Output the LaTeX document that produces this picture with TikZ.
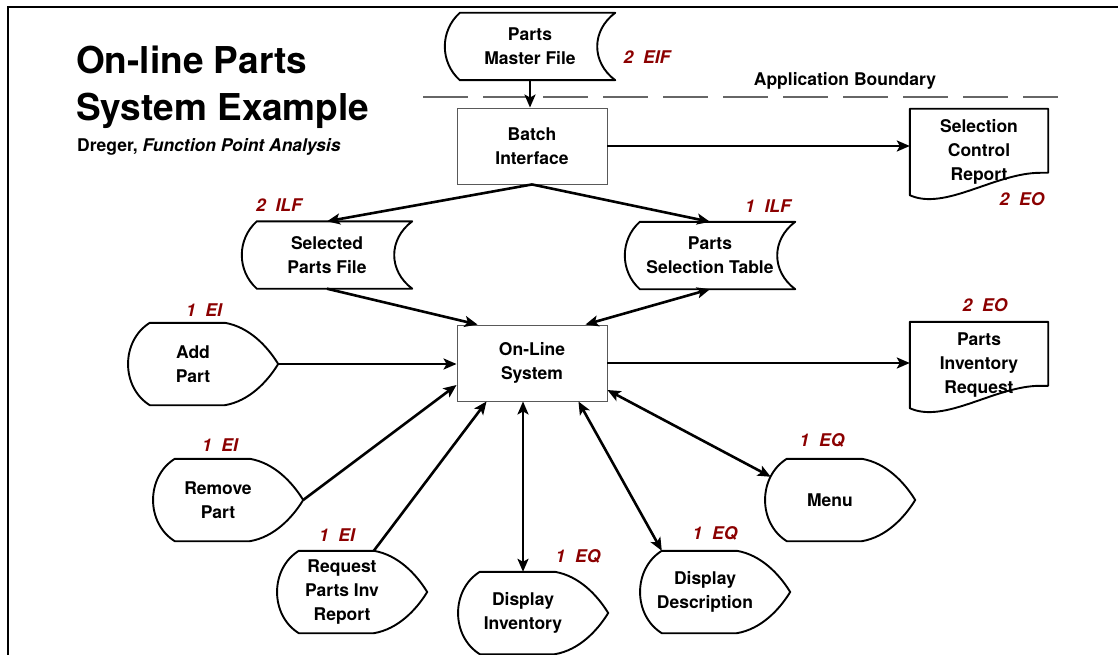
\documentclass[tikz,border=0pt]{standalone}
\usepackage{fontspec}
\setmainfont{TeX Gyre Heros}
\usepackage{tikz}
\usetikzlibrary{arrows.meta}
\definecolor{fpred}{RGB}{139,0,0}
\tikzstyle{shapeline} = [line width=1.9pt, line join=round]
\tikzstyle{store} = [minimum width=170pt, minimum height=67pt, inner sep=0pt, align=center, font=\fontsize{17.5}{24}\selectfont\bfseries]
\tikzstyle{display} = [minimum width=130pt, minimum height=82pt, inner sep=0pt, align=center, font=\fontsize{17.5}{24}\selectfont\bfseries]
\tikzstyle{report} = [minimum width=138pt, minimum height=86pt, inner sep=0pt, align=center, font=\fontsize{17.5}{24}\selectfont\bfseries]
\tikzstyle{process} = [rectangle, draw=black!65, line width=0.9pt, minimum width=150pt, minimum height=76pt, align=center, font=\fontsize{17.5}{24}\selectfont\bfseries]
\tikzstyle{fpcount} = [text=fpred, font=\fontsize{17.5}{21}\selectfont\bfseries\itshape]
\tikzstyle{arrow} = [line width=2.6pt, ->, >={Stealth[length=13pt,width=11pt,inset=3pt]}]
\tikzstyle{biarrow} = [line width=2.6pt, <->, >={Stealth[length=13pt,width=11pt,inset=3pt]}]

% stored data outline
\newcommand{\storeshape}[1]{%
  \draw[shapeline] ([xshift=15pt]#1.north west) -- (#1.north east)
    .. controls +(-24,18) and +(-24,-18) .. (#1.south east)
    -- ([xshift=15pt]#1.south west)
    .. controls +(-20,-18) and +(-20,18) .. cycle;}
% display outline, with a named tip
\newcommand{\dispshape}[1]{%
  \draw[shapeline] ([xshift=22pt]#1.north west) -- ([xshift=97pt]#1.north west)
    .. controls +(24,4) and +(-11,-18) .. ([xshift=20pt]#1.east)
    .. controls +(-11,18) and +(24,-4) .. ([xshift=97pt]#1.south west)
    -- ([xshift=22pt]#1.south west)
    .. controls +(-29,-18) and +(-29,18) .. cycle;
  \coordinate (#1-tip) at ([xshift=20pt]#1.east);}
% document outline
\newcommand{\docshape}[1]{%
  \draw[shapeline] ([xshift=-8pt,yshift=-64pt]#1.north east)
    .. controls +(-45,0) and +(35,16) .. (#1.south west)
    -- (#1.north west) -- (#1.north east) -- ([yshift=-64pt]#1.north east) -- cycle;}

\begin{document}
\begin{tikzpicture}[x=1pt, y=-1pt]
  \useasboundingbox (0,0) rectangle (1118,655);
  \draw[line width=2pt] (8,655) -- (8,7) -- (1118,7);

  % title
  \node [anchor=base west, inner sep=0pt, font=\fontsize{37}{46}\selectfont\bfseries] at (76,74) (title1) {On-line Parts};
  \node [anchor=base west, inner sep=0pt, font=\fontsize{37}{46}\selectfont\bfseries] at (76,121) (title2) {System Example};
  \node [anchor=base west, inner sep=0pt, font=\fontsize{17.5}{21}\selectfont\bfseries] at (77,152) (source) {Dreger, \textit{Function Point Analysis}};

  % boundary
  \draw [black!60, line width=1.1pt, dash pattern=on 45pt off 15pt] (423,97) -- (1058,97);
  \node [font=\fontsize{17.5}{21}\selectfont\bfseries] at (845,81) (boundary) {Application Boundary};

  \node [store] at (530,46.5) (master) {Parts\\Master File};
  \node [process] at (532,146) (batch) {Batch\\Interface};
  \node [report] at (979,152) (ctrlrep) {Selection\\Control\\Report};
  \node [store] at (327,255) (selfile) {Selected\\Parts File};
  \node [store] at (710,255.5) (seltable) {Parts\\Selection Table};
  \node [process] at (532,363) (online) {On-Line\\System};
  \node [report] at (979,365) (invreq) {Parts\\Inventory\\Request};
  \node [display] at (193,364) (addpart) {Add\\Part};
  \node [display] at (218,500) (rempart) {Remove\\Part};
  \node [display] at (342,592) (reqinv) {Request\\Parts Inv\\Report};
  \node [display] at (523,613) (dispinv) {Display\\Inventory};
  \node [display] at (705,592) (dispdesc) {Display\\Description};
  \node [display] at (830,500) (menu) {Menu};

  \storeshape{master}
  \storeshape{selfile}
  \storeshape{seltable}
  \docshape{ctrlrep}
  \docshape{invreq}
  \dispshape{addpart}
  \dispshape{rempart}
  \dispshape{reqinv}
  \dispshape{dispinv}
  \dispshape{dispdesc}
  \dispshape{menu}

  % counts
  \node [fpcount] at (647,57) (c-master) {2\ \ EIF};
  \node [fpcount] at (279,205) (c-selfile) {2\ \ ILF};
  \node [fpcount] at (768,206) (c-seltable) {1\ \ ILF};
  \node [fpcount] at (1022,199) (c-ctrlrep) {2\ \ EO};
  \node [fpcount] at (985,305) (c-invreq) {2\ \ EO};
  \node [fpcount] at (204,310) (c-addpart) {1\ \ EI};
  \node [fpcount] at (220,445) (c-rempart) {1\ \ EI};
  \node [fpcount] at (337,535) (c-reqinv) {1\ \ EI};
  \node [fpcount] at (578,556) (c-dispinv) {1\ \ EQ};
  \node [fpcount] at (715,533) (c-dispdesc) {1\ \ EQ};
  \node [fpcount] at (822,440) (c-menu) {1\ \ EQ};

  \draw [arrow] (master.south) -- (master.south |- batch.north);
  \draw [arrow] (batch.east) -- (batch.east -| ctrlrep.west);
  \draw [arrow] (batch.south) -- (selfile.north);
  \draw [arrow] (batch.south) -- (seltable.north);
  \draw [arrow] (selfile.south) -- ([xshift=21pt]online.north west);
  \draw [biarrow] ([xshift=-22pt]online.north east) -- (seltable.south);
  \draw [arrow] (addpart-tip) -- (addpart-tip -| online.west);
  \draw [arrow] (online.east) -- (online.east -| invreq.west);
  \draw [arrow] (rempart-tip) -- ([yshift=-22pt]online.west);
  \draw [arrow] ([xshift=97pt]reqinv.north west) -- ([xshift=30pt]online.south west);
  \draw [biarrow] (dispinv.north |- online.south) -- (dispinv.north);
  \draw [biarrow] ([xshift=-29pt]online.south east) -- ([xshift=22pt]dispdesc.north west);
  \draw [biarrow] ([yshift=-27pt]online.east) -- ([xshift=6pt,yshift=-18pt]menu.north west);
\end{tikzpicture}
\end{document}
